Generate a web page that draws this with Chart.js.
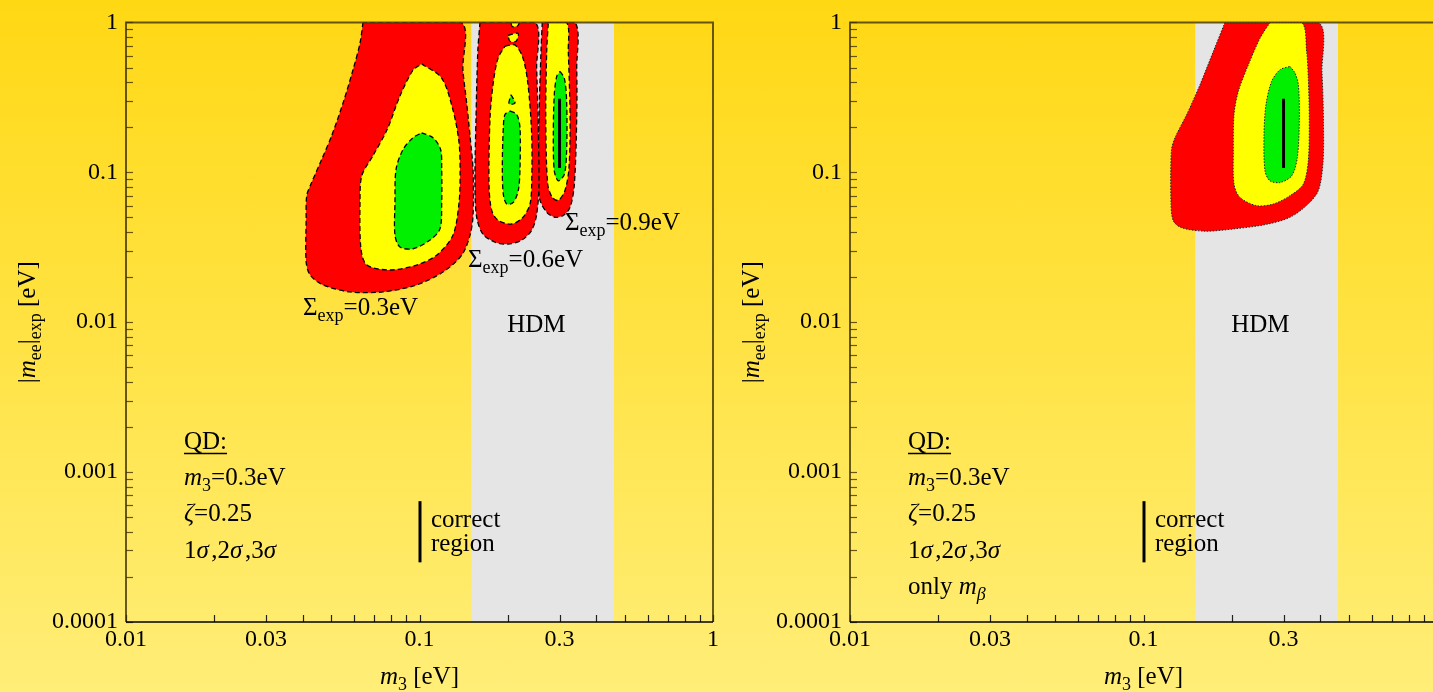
<!DOCTYPE html>
<html>
<head>
<meta charset="utf-8">
<script src="https://cdn.jsdelivr.net/npm/chart.js@4.4.1/dist/chart.umd.min.js"></script>
<style>
  html, body { margin: 0; padding: 0; }
  body {
    width: 1433px; height: 692px; overflow: hidden; position: relative;
    background: linear-gradient(to bottom, #ffd814 0%, #ffe240 45%, #ffee78 100%);
  }
  canvas.panel { position: absolute; top: 0; }
</style>
</head>
<body>
<canvas id="left" class="panel" width="724" height="692" style="left:0"></canvas>
<canvas id="right" class="panel" width="724" height="692" style="left:724px"></canvas>
<script>
// ---------- axes ----------
const xRange = [0.01, 1];
const yRange = [0.0001, 1];
const xLabelValues = [0.01, 0.03, 0.1, 0.3, 1];
const xTickLabels  = ['0.01', '0.03', '0.1', '0.3', '1'];
const yLabelValues = [0.0001, 0.001, 0.01, 0.1, 1];
const yTickLabels  = ['0.0001', '0.001', '0.01', '0.1', '1'];

// HDM band (m3 range)
const hdmRange = [0.15, 0.46];

// ---------- Σexp = 0.3 eV ----------
const s03RedX = [0.0642,0.0627,0.0593,0.0549,0.0502,0.0464,0.0429,0.0413,0.0411,0.0411,0.0424,0.0469,0.0580,0.0751,0.0978,0.1202,0.1393,0.1486,0.1522,0.1522,0.1486,0.1448,0.1406,0.1384];
const s03RedY = [1,0.726,0.480,0.290,0.1753,0.1215,0.0855,0.0701,0.0486,0.0252,0.02066,0.01773,0.01593,0.01593,0.01773,0.0216,0.028,0.038,0.0516,0.1043,0.1753,0.290,0.480,1];
const s03YelX = [0.1017,0.119,0.130,0.1364,0.1375,0.1364,0.130,0.1144,0.0978,0.0793,0.0662,0.0632,0.0627,0.0636,0.0694,0.0775,0.0858,0.095];
const s03YelY = [0.529,0.425,0.261,0.1575,0.0996,0.063,0.038,0.028,0.02406,0.0223,0.02406,0.0307,0.063,0.0951,0.129,0.192,0.323,0.480];
const s03GrnX = [0.1017,0.1112,0.118,0.119,0.119,0.1174,0.1086,0.095,0.0858,0.0825,0.0825,0.0832,0.0879,0.095];
const s03GrnY = [0.1835,0.170,0.142,0.1047,0.063,0.0419,0.0353,0.0309,0.0317,0.038,0.063,0.1047,0.142,0.170];

// ---------- Σexp = 0.6 eV ----------
const s06RedX = [0.1607,0.158,0.1558,0.1545,0.1566,0.1646,0.1808,0.2002,0.2229,0.2411,0.2507,0.2553,0.2533,0.2507,0.2474];
const s06RedY = [1,0.642,0.2307,0.0829,0.0501,0.0386,0.0342,0.0332,0.0353,0.0411,0.0524,0.0829,0.2307,0.495,1];
const s06YelX = [0.1955,0.2115,0.2253,0.2343,0.2411,0.2411,0.2379,0.2253,0.2061,0.1851,0.1762,0.1725,0.1739,0.178,0.1851];
const s06YelY = [0.693,0.707,0.577,0.3838,0.1789,0.0833,0.0614,0.0501,0.0452,0.0479,0.0557,0.0833,0.2307,0.3838,0.577];
const s06YelTopX = [0.205,0.2183,0.2151,0.2067];
const s06YelTopY = [1,1,0.941,0.941];
const s06YelIsleX = [0.2002,0.2167,0.2134,0.2034];
const s06YelIsleY = [0.820,0.845,0.748,0.748];
const s06GrnX = [0.2034,0.2144,0.2200,0.2200,0.2171,0.2087,0.1982,0.193,0.1915,0.193,0.1955];
const s06GrnY = [0.2568,0.2427,0.198,0.1075,0.0757,0.063,0.0614,0.0715,0.1075,0.198,0.2427];
const s06GrnIsleX = [0.205,0.2115,0.2018];
const s06GrnIsleY = [0.3295,0.290,0.2858];

// ---------- Σexp = 0.9 eV ----------
const s09RedX = [0.262,0.2594,0.2553,0.254,0.2574,0.2713,0.2894,0.309,0.3258,0.3369,0.3433,0.3433,0.3387];
const s09RedY = [1,0.642,0.2307,0.0829,0.065,0.0541,0.0501,0.0516,0.0584,0.0829,0.2307,0.495,1];
const s09YelX = [0.2747,0.3172,0.3213,0.3258,0.3231,0.3131,0.2971,0.2835,0.2734,0.2692,0.2713];
const s09YelY = [1,1,0.642,0.2307,0.1075,0.0757,0.065,0.068,0.0833,0.2307,0.642];
const s09GrnX = [0.301,0.3115,0.3172,0.3172,0.3115,0.2971,0.2879,0.2857,0.2879,0.2934];
const s09GrnY = [0.471,0.425,0.298,0.1394,0.097,0.0877,0.1022,0.1789,0.3295,0.436];

// ---------- only mβ ----------
const mbRedX = [0.1895,0.1729,0.1558,0.1404,0.1281,0.1245,0.1241,0.1263,0.1349,0.162,0.205,0.263,0.3155,0.3597,0.394,0.4088,0.4104,0.4056,0.394];
const mbRedY = [1,0.639,0.3838,0.2427,0.170,0.1394,0.063,0.0476,0.0427,0.0405,0.042,0.045,0.0501,0.0602,0.0753,0.116,0.2138,0.4588,1];
const mbYelX = [0.2698,0.2493,0.2276,0.2104,0.2034,0.2023,0.2034,0.2132,0.243,0.2768,0.3155,0.3503,0.3643,0.3672,0.3643,0.3597,0.3459];
const mbYelY = [1,0.783,0.521,0.347,0.2427,0.1388,0.0833,0.068,0.0599,0.0614,0.0698,0.0833,0.119,0.2307,0.425,0.639,1];
const mbGrnX = [0.3155,0.3283,0.3369,0.3396,0.3342,0.3197,0.2918,0.2698,0.2594,0.2574,0.2615,0.2734,0.2918];
const mbGrnY = [0.5084,0.4588,0.3838,0.2307,0.1253,0.0947,0.0855,0.0877,0.1022,0.1789,0.2828,0.4043,0.4827];

// true values: the "correct region"
const correctX = 0.3;
const correctY = [0.107, 0.31];

// annotation anchors (data coordinates)
const sigmaValues = ['0.3eV', '0.6eV', '0.9eV'];
const sigmaLabelX = [0.0401, 0.1463, 0.3131];
const sigmaLabelY = [0.01122, 0.02334, 0.0411];
const hdmLabelAt = [0.25, 0.00865];
const infoAt = [0.01576, 0.001426];
const keyBarX = 0.1;
const keyBarY = [0.00064, 0.00025];
const keyTextAt = [0.1094, 0.000433];

// ---------- styling ----------
const FONT = '"Liberation Serif", "Times New Roman", serif';
const TXT = 25;
const RED = '#ff0000', YELLOW = '#ffff00', GREEN = '#00f000', HDM = '#e5e5e5';
const FRAME = 'rgba(60,48,0,0.78)';

function decadeTicks(lo, hi) {
  const out = [];
  for (let e = Math.round(Math.log10(lo)); e < Math.round(Math.log10(hi)); e++) {
    for (let m = 1; m <= 9; m++) out.push(m * Math.pow(10, e));
  }
  out.push(hi);
  return out;
}
const xTicks = decadeTicks(xRange[0], xRange[1]);
const yTicks = decadeTicks(yRange[0], yRange[1]);

function labelFor(v, values, labels) {
  for (let i = 0; i < values.length; i++) {
    if (Math.abs(Math.log10(v) - Math.log10(values[i])) < 1e-6) return labels[i];
  }
  return '';
}

function pts(xs, ys, close) {
  const p = xs.map((x, i) => ({ x, y: ys[i] }));
  if (close) p.push({ x: xs[0], y: ys[0] });
  return p;
}

function region(xs, ys, color, order, dash) {
  return {
    data: pts(xs, ys, true),
    backgroundColor: color,
    borderColor: dash.color,
    borderWidth: dash.width,
    borderDash: dash.pattern,
    fill: 'shape',
    pointRadius: 0,
    tension: 0.3,
    order
  };
}

function hdmBand() {
  return {
    data: pts([hdmRange[0], hdmRange[1], hdmRange[1], hdmRange[0]], [yRange[0], yRange[0], yRange[1], yRange[1]], true),
    backgroundColor: HDM, borderWidth: 0, fill: 'shape', pointRadius: 0, tension: 0, order: 10
  };
}

function correctMark() {
  return {
    data: pts([correctX, correctX], correctY, false),
    borderColor: '#000', borderWidth: 3, fill: false, pointRadius: 0, order: 0
  };
}

// ---------- rich text ----------
function fontStr(size, italic) { return (italic ? 'italic ' : '') + size + 'px ' + FONT; }
function drawRich(ctx, parts, x, y, size, align) {
  const pieces = parts.map(([t, s]) => {
    const sub = s === 's' || s === 'si';
    const it = s === 'i' || s === 'si';
    const f = fontStr(sub ? size * 0.72 : size, it);
    ctx.font = f;
    return { t, f, w: ctx.measureText(t).width + (s === 'i' && t === 'σ' ? 2.5 : 0), dy: sub ? size * 0.24 : 0 };
  });
  const total = pieces.reduce((a, p) => a + p.w, 0);
  let cx = align === 'center' ? x - total / 2 : x;
  ctx.textAlign = 'left';
  ctx.textBaseline = 'alphabetic';
  for (const p of pieces) { ctx.font = p.f; ctx.fillText(p.t, cx, y + p.dy); cx += p.w; }
  return total;
}

function decorPlugin(panel) {
  return {
    id: 'decor',
    afterDatasetsDraw(chart) {
      const { ctx, chartArea: a, scales: { x, y } } = chart;
      ctx.save();
      // inward tick marks
      ctx.lineWidth = 1.2;
      ctx.strokeStyle = FRAME;
      for (const v of yTicks) {
        const py = Math.round(y.getPixelForValue(v)) + 0.5;
        ctx.beginPath(); ctx.moveTo(a.left, py); ctx.lineTo(a.left + 7, py); ctx.stroke();
      }
      ctx.strokeStyle = '#222';
      for (const v of xTicks) {
        const px = Math.round(x.getPixelForValue(v)) + 0.5;
        ctx.beginPath(); ctx.moveTo(px, a.bottom); ctx.lineTo(px, a.bottom - 7); ctx.stroke();
      }
      // frame
      ctx.strokeStyle = FRAME; ctx.lineWidth = 2;
      ctx.beginPath();
      ctx.moveTo(a.left, a.bottom); ctx.lineTo(a.left, a.top); ctx.lineTo(a.right, a.top); ctx.lineTo(a.right, a.bottom);
      ctx.stroke();
      ctx.strokeStyle = '#000'; ctx.lineWidth = 1.6;
      ctx.beginPath(); ctx.moveTo(a.left, a.bottom); ctx.lineTo(a.right, a.bottom); ctx.stroke();

      ctx.fillStyle = '#000';
      // contour labels
      if (panel.sigma) {
        sigmaValues.forEach((s, i) => {
          drawRich(ctx, [['Σ', ''], ['exp', 's'], ['=' + s, '']],
            x.getPixelForValue(sigmaLabelX[i]), y.getPixelForValue(sigmaLabelY[i]), TXT, 'left');
        });
      }
      // HDM
      drawRich(ctx, [['HDM', '']], x.getPixelForValue(hdmLabelAt[0]), y.getPixelForValue(hdmLabelAt[1]), TXT, 'center');

      // info block
      const ix = x.getPixelForValue(infoAt[0]);
      let iy = y.getPixelForValue(infoAt[1]);
      const w = drawRich(ctx, [['QD:', '']], ix, iy, TXT, 'left');
      ctx.lineWidth = 1.4; ctx.strokeStyle = '#000';
      ctx.beginPath(); ctx.moveTo(ix, iy + 4.5); ctx.lineTo(ix + w, iy + 4.5); ctx.stroke();
      const lines = [
        [['m', 'i'], ['3', 's'], ['=0.3eV', '']],
        [['ζ', 'i'], ['=0.25', '']],
        [['1', ''], ['σ', 'i'], [',2', ''], ['σ', 'i'], [',3', ''], ['σ', 'i']]
      ];
      if (panel.onlyBeta) lines.push([['only ', ''], ['m', 'i'], ['β', 'si']]);
      for (const ln of lines) { iy += 36.2; drawRich(ctx, ln, ix, iy, TXT, 'left'); }

      // key for the true-value mark
      const bx = Math.round(x.getPixelForValue(keyBarX));
      ctx.lineWidth = 3;
      ctx.beginPath(); ctx.moveTo(bx, y.getPixelForValue(keyBarY[0])); ctx.lineTo(bx, y.getPixelForValue(keyBarY[1])); ctx.stroke();
      const kx = x.getPixelForValue(keyTextAt[0]);
      const ky = y.getPixelForValue(keyTextAt[1]);
      drawRich(ctx, [['correct', '']], kx, ky, TXT, 'left');
      drawRich(ctx, [['region', '']], kx, ky + 24, TXT, 'left');

      // axis titles
      drawRich(ctx, [['m', 'i'], ['3', 's'], [' [eV]', '']], (a.left + a.right) / 2, a.bottom + 62, TXT, 'center');
      ctx.translate(a.left - 91, (a.top + a.bottom) / 2);
      ctx.rotate(-Math.PI / 2);
      drawRich(ctx, [['|', ''], ['m', 'i'], ['ee', 's'], ['|', ''], ['exp', 's'], [' [eV]', '']], 0, 0, TXT, 'center');
      ctx.restore();
    }
  };
}

function makeChart(id, datasets, panel) {
  return new Chart(document.getElementById(id), {
    type: 'line',
    data: { datasets },
    options: {
      responsive: false,
      animation: false,
      layout: { padding: { top: 19, right: 11, left: 0, bottom: 0 } },
      plugins: { legend: { display: false }, tooltip: { enabled: false } },
      scales: {
        x: {
          type: 'logarithmic', min: xRange[0], max: xRange[1],
          afterBuildTicks: s => { s.ticks = xTicks.map(v => ({ value: v })); },
          afterFit: s => { s.height = 70; },
          grid: { display: false, drawTicks: false }, border: { display: false },
          ticks: {
            autoSkip: false, maxRotation: 0, minRotation: 0, padding: 3, color: '#000',
            font: { family: FONT, size: 24 },
            callback: v => labelFor(v, xLabelValues, xTickLabels)
          }
        },
        y: {
          type: 'logarithmic', min: yRange[0], max: yRange[1],
          afterBuildTicks: s => { s.ticks = yTicks.map(v => ({ value: v })); },
          afterFit: s => { s.width = 126; },
          grid: { display: false, drawTicks: false }, border: { display: false },
          ticks: {
            autoSkip: false, padding: 8, color: '#000',
            font: { family: FONT, size: 24 },
            callback: v => labelFor(v, yLabelValues, yTickLabels)
          }
        }
      }
    },
    plugins: [decorPlugin(panel)]
  });
}

const dashed = { color: '#000', width: 1.3, pattern: [5, 3] };
const dotted = { color: '#222', width: 1, pattern: [1.5, 1.5] };

makeChart('left', [
  hdmBand(),
  region(s03RedX, s03RedY, RED, 9, dashed),
  region(s06RedX, s06RedY, RED, 9, dashed),
  region(s09RedX, s09RedY, RED, 9, dashed),
  region(s03YelX, s03YelY, YELLOW, 6, dashed),
  region(s06YelX, s06YelY, YELLOW, 6, dashed),
  region(s06YelTopX, s06YelTopY, YELLOW, 6, dashed),
  region(s06YelIsleX, s06YelIsleY, YELLOW, 6, dashed),
  region(s09YelX, s09YelY, YELLOW, 6, dashed),
  region(s03GrnX, s03GrnY, GREEN, 3, dashed),
  region(s06GrnX, s06GrnY, GREEN, 3, dashed),
  region(s06GrnIsleX, s06GrnIsleY, GREEN, 3, dashed),
  region(s09GrnX, s09GrnY, GREEN, 3, dashed),
  correctMark()
], { sigma: true, onlyBeta: false });

makeChart('right', [
  hdmBand(),
  region(mbRedX, mbRedY, RED, 9, dotted),
  region(mbYelX, mbYelY, YELLOW, 6, dotted),
  region(mbGrnX, mbGrnY, GREEN, 3, dotted),
  correctMark()
], { sigma: false, onlyBeta: true });
</script>
</body>
</html>
